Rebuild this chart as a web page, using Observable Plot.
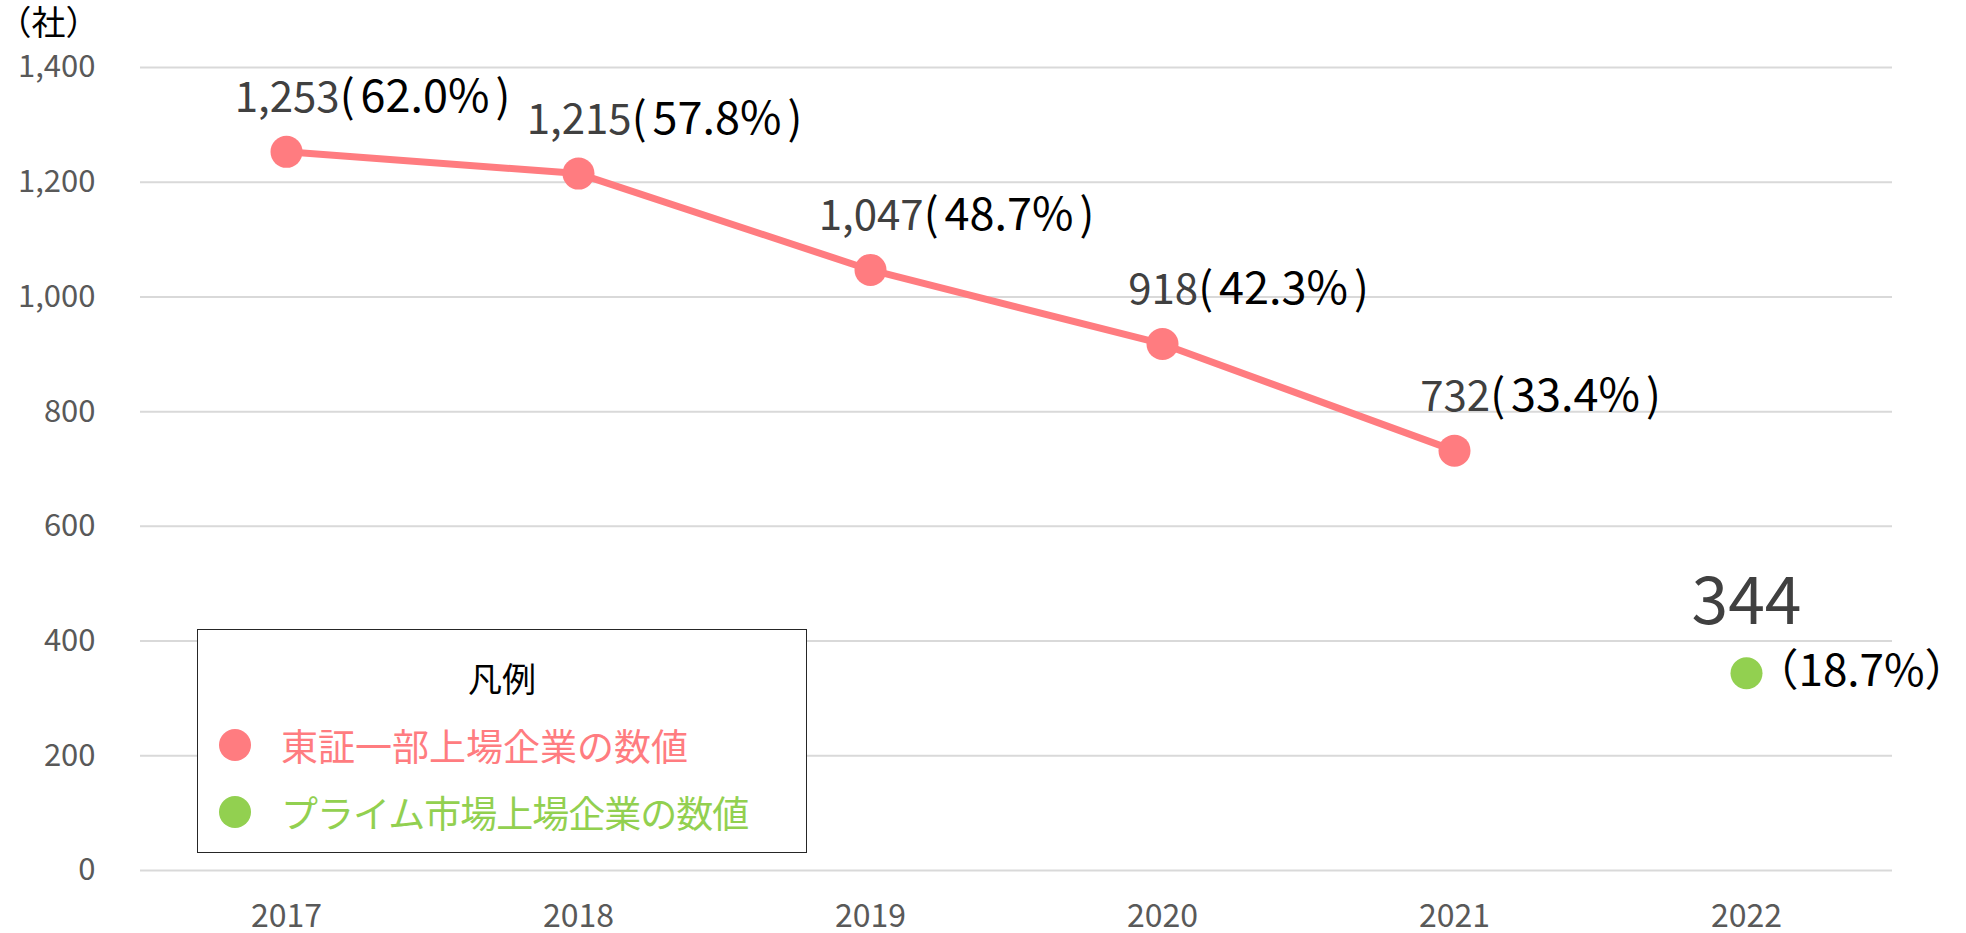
<!DOCTYPE html>
<html>
<head>
<meta charset="utf-8">
<script src="https://cdn.jsdelivr.net/npm/d3@7"></script>
<script src="https://cdn.jsdelivr.net/npm/@observablehq/plot@0.6"></script>
<style>
  html, body { margin: 0; padding: 0; background: #fff; }
  #wrap { position: relative; width: 1966px; height: 933px; font-family: "Noto Sans CJK JP", "Noto Sans", sans-serif; }
  #legend { position: absolute; left: 197px; top: 629px; width: 610px; height: 224px; box-sizing: border-box;
            border: 1.5px solid #262626; background: #fff; }
  #legend .title { position: absolute; left: 0; width: 100%; text-align: center; top: 23px; line-height: 50px; font-size: 34px; color: #000; }
  #legend .dot { position: absolute; width: 32px; height: 32px; border-radius: 50%; left: 21px; }
  #legend .lab { position: absolute; left: 83px; line-height: 50px; font-size: 37px; white-space: nowrap; }
</style>
</head>
<body>
<div id="wrap"></div>
<script>
// ---- data ----
const years = ["2017", "2018", "2019", "2020", "2021", "2022"];
const tseYears = ["2017", "2018", "2019", "2020", "2021"];
const tseValues = [1253, 1215, 1047, 918, 732];
const tseShares = [62.0, 57.8, 48.7, 42.3, 33.4];
const primeYears = ["2022"];
const primeValues = [344];
const primeShares = [18.7];
const yTicks = [0, 200, 400, 600, 800, 1000, 1200, 1400];
const unitLabel = "（社）";
const legendTitle = "凡例";
const seriesNames = ["東証一部上場企業の数値", "プライム市場上場企業の数値"];
const colors = ["#FF7C80", "#92D050"];

const fmt = d3.format(",");
const tse = tseYears.map((yr, i) => ({year: yr, value: tseValues[i], share: tseShares[i],
  label: `${fmt(tseValues[i])}(${tseShares[i].toFixed(1)}%)`}));
const prime = primeYears.map((yr, i) => ({year: yr, value: primeValues[i], share: primeShares[i]}));

const chart = Plot.plot({
  width: 1966,
  height: 933,
  marginTop: 67,
  marginBottom: 63,
  marginLeft: 140,
  marginRight: 74,
  style: {fontFamily: '"Noto Sans CJK JP", "Noto Sans", sans-serif', background: "#fff", overflow: "visible"},
  x: {type: "point", domain: years, padding: 0.5, align: 0.5},
  y: {domain: [0, 1400]},
  marks: [
    Plot.ruleY(yTicks, {stroke: "#d9d9d9", strokeWidth: 2}),
    Plot.axisY(yTicks, {tickSize: 0, tickPadding: 45, tickFormat: fmt, fontSize: 31, color: "#595959", label: null}),
    Plot.axisX({tickSize: 0, tickPadding: 34, fontSize: 32, color: "#595959", label: null}),
    Plot.line(tse, {x: "year", y: "value", stroke: colors[0], strokeWidth: 7}),
    Plot.dot(tse, {x: "year", y: "value", r: 16, fill: colors[0], stroke: "none"}),
    Plot.text(tse, {x: "year", y: "value", text: "label", dx: 86, dy: -53, fontSize: 42, fill: "#000"}),
    Plot.dot(prime, {x: "year", y: "value", r: 16, fill: colors[1], stroke: "none"}),
    Plot.text(prime, {x: "year", y: "value", text: d => String(d.value), dy: -70, fontSize: 66, fill: "#404040"}),
    Plot.text(prime, {x: "year", y: "value", text: d => `（${d.share.toFixed(1)}%）`, dx: 8, dy: -1, textAnchor: "start", fontSize: 44, fill: "#000"}),
    Plot.text([unitLabel], {frameAnchor: "top-left", dx: -143, dy: -43, textAnchor: "start", lineAnchor: "middle", fontSize: 34, fill: "#000"})
  ]
});

// color the number part grey and the share part black
d3.select(chart).selectAll("text").each(function() {
  const t = this.textContent;
  const m = /^([\d,]+)\(([\d.]+%)\)$/.exec(t);
  if (!m) return;
  const sel = d3.select(this);
  sel.text(null);
  sel.append("tspan").attr("fill", "#404040").text(m[1]);
  sel.append("tspan").attr("fill", "#000").attr("font-size", 44).text("(");
  sel.append("tspan").attr("fill", "#000").attr("font-size", 45).attr("dx", 6).text(m[2]);
  sel.append("tspan").attr("fill", "#000").attr("font-size", 44).attr("dx", 6).text(")");
});

const wrap = document.getElementById("wrap");
wrap.appendChild(chart);

// legend box (inside plot area, as in the reference)
const legend = document.createElement("div");
legend.id = "legend";
legend.innerHTML = `<div class="title">${legendTitle}</div>` +
  seriesNames.map((n, i) => {
    const cy = 115 + i * 67;
    const ls = i === 1 ? "letter-spacing:-1px;" : "";
    return `<div class="dot" style="top:${cy - 16}px;background:${colors[i]}"></div>` +
           `<div class="lab" style="top:${cy - 25}px;color:${colors[i]};${ls}">${n}</div>`;
  }).join("");
wrap.appendChild(legend);
</script>
</body>
</html>
